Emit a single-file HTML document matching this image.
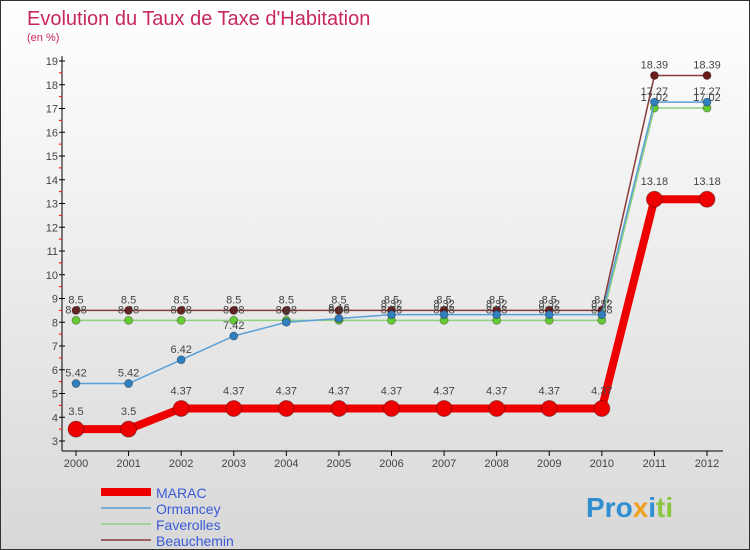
<!DOCTYPE html>
<html><head><meta charset="utf-8"><style>
body{margin:0}
#c{width:748px;height:548px;border:1px solid #333;background:linear-gradient(#fff,#d8d8d8);position:relative;font-family:"Liberation Sans",sans-serif;overflow:hidden}
</style></head><body>
<div id="c">
<svg id="s" width="748" height="548">
<text x="26" y="24" font-size="20" fill="#c8285a">Evolution du Taux de Taxe d'Habitation</text>
<text x="26" y="40" font-size="11" fill="#c8285a">(en %)</text>
<g id="g"></g>
<text x="585" y="516" font-size="28" font-weight="bold" fill="#2f8fd0">Pro<tspan fill="#f0a020">x</tspan><tspan fill="#2f8fd0">i</tspan><tspan fill="#8cc63f">ti</tspan></text>
</svg></div>
<script>
const years=[2000,2001,2002,2003,2004,2005,2006,2007,2008,2009,2010,2011,2012];
const yTicks=[3,4,5,6,7,8,9,10,11,12,13,14,15,16,17,18,19];
const marac=[3.5,3.5,4.37,4.37,4.37,4.37,4.37,4.37,4.37,4.37,4.37,13.18,13.18];
const ormancey=[5.42,5.42,6.42,7.42,8.0,8.16,8.32,8.32,8.32,8.32,8.32,17.27,17.27];
const faverolles=[8.08,8.08,8.08,8.08,8.08,8.08,8.08,8.08,8.08,8.08,8.08,17.02,17.02];
const beauchemin=[8.5,8.5,8.5,8.5,8.5,8.5,8.5,8.5,8.5,8.5,8.5,18.39,18.39];
const names=["MARAC","Ormancey","Faverolles","Beauchemin"];
const NS="http://www.w3.org/2000/svg",g=document.getElementById('g');
const X=i=>75+i*(706-75)/(years.length-1),Y=v=>440-(v-3)*380/16;
function el(t,a,p){const e=document.createElementNS(NS,t);for(const k in a)e.setAttribute(k,a[k]);(p||g).appendChild(e);return e;}
let e=el('line',{x1:61,y1:55,x2:61,y2:450,stroke:'#000'});

e=el('line',{x1:61,y1:450,x2:722,y2:450,stroke:'#000'});

yTicks.forEach(v=>{el('line',{x1:58,x2:64,y1:Y(v),y2:Y(v),stroke:'#000'});
if(v<19)el('line',{x1:58,x2:61,y1:Y(v+0.5),y2:Y(v+0.5),stroke:'red'});
const t=el('text',{x:57,y:Y(v)+4,'font-size':11,fill:'#444','text-anchor':'end'});t.textContent=v;
});
years.forEach((y,i)=>{el('line',{x1:X(i),x2:X(i),y1:450,y2:455,stroke:'#000'});
const t=el('text',{x:X(i),y:466,'font-size':11,fill:'#444','text-anchor':'middle'});t.textContent=y;
});
const series=[[beauchemin,'#8b3a3a','#6b1a1a',1.5,4,'beauchemin'],[faverolles,'#90d080','#66cc33',1.5,4,'faverolles'],[ormancey,'#5aa0d8','#3080c0',1.5,4,'ormancey'],[marac,'#ee0000','#ee0000',8,8,'marac']];
series.forEach(([d,lc,pc,w,r,n])=>{
const p=el('polyline',{points:d.map((v,i)=>X(i)+','+Y(v)).join(' '),fill:'none',stroke:lc,'stroke-width':w});

d.forEach((v,i)=>{const c=el('circle',{cx:X(i),cy:Y(v),r:r,fill:pc,stroke:'rgba(0,0,0,0.3)'});

const t=el('text',{x:X(i),y:Y(v)-(n=='marac'?14:7),'font-size':11,fill:'#444','text-anchor':'middle'});t.textContent=v.toFixed(2).replace(/\.?0+$/,'');
});});
const lc=['#ee0000','#5aa0d8','#90d080','#8b3a3a'],lw=[8,1.5,1.5,1.5];
names.forEach((n,i)=>{const y=491+i*16;el('line',{x1:100,x2:150,y1:y,y2:y,stroke:lc[i],'stroke-width':lw[i]});
const t=el('text',{x:155,y:y+6,'font-size':14,fill:'#3a5ad8'});t.textContent=n;
});
</script></body></html>
